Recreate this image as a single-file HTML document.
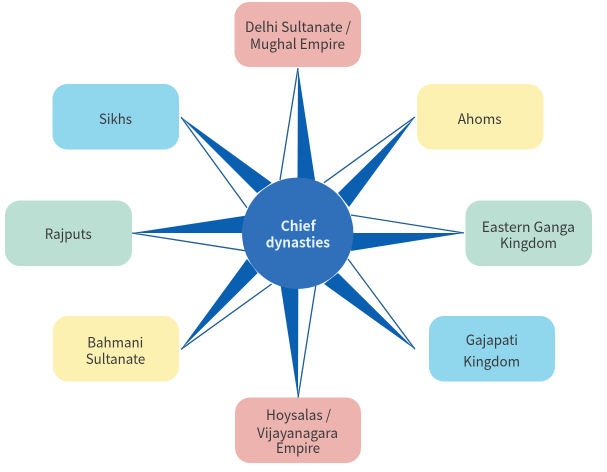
<!DOCTYPE html>
<html><head><meta charset="utf-8"><style>
html,body{margin:0;padding:0;background:#fff;width:607px;height:472px;overflow:hidden}
svg{display:block;filter:blur(0.3px)}
text{font-family:"Noto Sans CJK JP","Liberation Sans",sans-serif;font-size:14px;fill:#3a3b3d}
</style></head><body>
<svg width="607" height="472" viewBox="0 0 607 472" xmlns="http://www.w3.org/2000/svg">
<rect width="607" height="472" fill="#fff"/>
<g fill="#0b5fb0">
<polygon points="298,68 297.5,180 315,180"/>
<polygon points="181,117 271.7,182.7 257,193"/>
<polygon points="415,117 338,193 349,207"/>
<polygon points="464,233 352,233 351,251"/>
<polygon points="132,233 245,215.7 242,233"/>
<polygon points="298,398 280.7,286 298.3,286"/>
<polygon points="181,349.3 247,259 257.7,273"/>
<polygon points="415,349.3 338,273 324,284"/>
</g>
<g stroke="#1f5c92" stroke-width="1.3" fill="none">
<line x1="298" y1="68" x2="280" y2="180"/>
<line x1="181" y1="117" x2="247" y2="207.7"/>
<line x1="415" y1="117" x2="324" y2="182.7"/>
<line x1="464" y1="233" x2="351" y2="215"/>
<line x1="132" y1="233" x2="245" y2="250.7"/>
<line x1="298" y1="398" x2="315.7" y2="286"/>
<line x1="181" y1="349.3" x2="271.7" y2="284"/>
<line x1="415" y1="349.3" x2="348" y2="259"/>
</g>
<circle cx="297.7" cy="233.3" r="55.7" fill="#3070ba"/>
<rect x="234.5" y="2" width="126.5" height="65" rx="15" fill="#edb3ae"/>
<rect x="235" y="397.5" width="126" height="65.5" rx="15" fill="#edb3ae"/>
<rect x="52.5" y="84" width="126.5" height="65.5" rx="15" fill="#90d6ec"/>
<rect x="5" y="200.5" width="127" height="65.5" rx="15" fill="#bbdfd3"/>
<rect x="417" y="84" width="126.5" height="65.5" rx="15" fill="#fdf1b2"/>
<rect x="465.5" y="200.5" width="126.5" height="65.5" rx="15" fill="#bbdfd3"/>
<rect x="53" y="316" width="126" height="65.5" rx="15" fill="#fdf1b2"/>
<rect x="429" y="316" width="126" height="65.5" rx="15" fill="#90d6ec"/>
<g>
<text x="245" y="32" textLength="106" lengthAdjust="spacingAndGlyphs">Delhi Sultanate /</text>
<text x="250" y="49" textLength="95" lengthAdjust="spacingAndGlyphs">Mughal Empire</text>
<text x="266" y="420" textLength="65" lengthAdjust="spacingAndGlyphs">Hoysalas /</text>
<text x="257" y="438" textLength="81" lengthAdjust="spacingAndGlyphs">Vijayanagara</text>
<text x="276" y="453" textLength="44" lengthAdjust="spacingAndGlyphs">Empire</text>
<text x="99" y="124" textLength="33" lengthAdjust="spacingAndGlyphs">Sikhs</text>
<text x="44.7" y="239" textLength="47" lengthAdjust="spacingAndGlyphs">Rajputs</text>
<text x="457.7" y="124" textLength="44" lengthAdjust="spacingAndGlyphs">Ahoms</text>
<text x="481.7" y="232" textLength="93.3" lengthAdjust="spacingAndGlyphs">Eastern Ganga</text>
<text x="500" y="248" textLength="57" lengthAdjust="spacingAndGlyphs">Kingdom</text>
<text x="87.3" y="347.3" textLength="56" lengthAdjust="spacingAndGlyphs">Bahmani</text>
<text x="85.7" y="364" textLength="59.6" lengthAdjust="spacingAndGlyphs">Sultanate</text>
<text x="465.7" y="345" textLength="52.3" lengthAdjust="spacingAndGlyphs">Gajapati</text>
<text x="463.3" y="366.7" textLength="56.7" lengthAdjust="spacingAndGlyphs">Kingdom</text>
<text x="280.7" y="231" textLength="35" lengthAdjust="spacingAndGlyphs" style="fill:#e6f1f8;font-weight:700">Chief</text>
<text x="265.7" y="247.3" textLength="64.3" lengthAdjust="spacingAndGlyphs" style="fill:#e6f1f8;font-weight:700">dynasties</text>
</g>
</svg>
</body></html>
